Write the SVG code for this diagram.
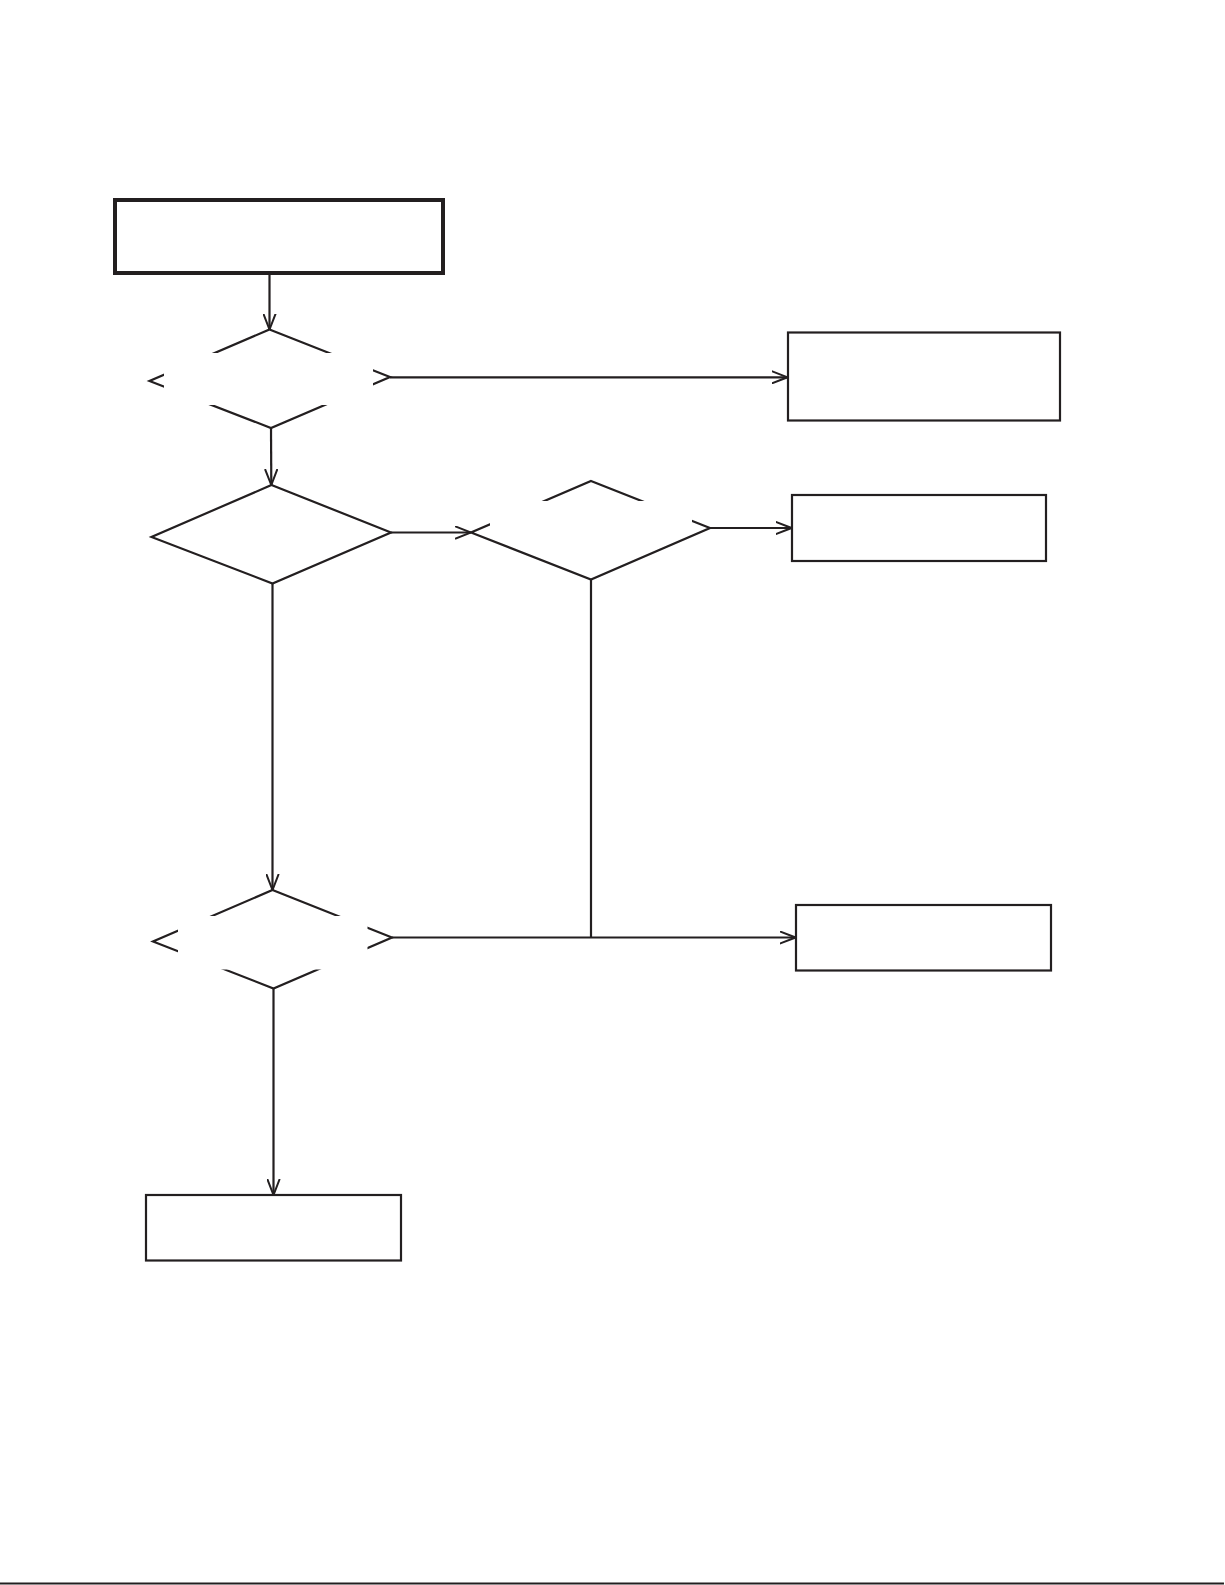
<svg xmlns="http://www.w3.org/2000/svg" width="1225" height="1585" viewBox="0 0 1225 1585">
<style>
.box{fill:#fff;stroke:#231f20;stroke-width:2.2}
.dia{fill:#fff;stroke:#231f20;stroke-width:2.2;stroke-linejoin:miter}
.mask{fill:#fff;stroke:none}
.con{fill:none;stroke:#231f20;stroke-width:2.2}
</style>
<defs>
<marker id="arr" viewBox="0 0 16 14" markerWidth="16" markerHeight="14" refX="16" refY="7" orient="auto" markerUnits="userSpaceOnUse">
<path d="M0,0.8 L16,7 L0,13.2" fill="none" stroke="#231f20" stroke-width="2"/>
</marker>
</defs>
<rect width="1225" height="1585" fill="#fff"/>
<g id="start">
<rect x="115" y="200" width="328" height="73" fill="#fff" stroke="#231f20" stroke-width="4"/>
</g>
<g id="decision1">
<polygon class="dia" points="269.5,329.5 390,377 271,428 149.5,381"/>
<rect class="mask" x="164" y="353" width="209" height="52"/>
</g>
<g id="decision2">
<polygon class="dia" points="271.5,485 391,532.5 272.5,583.5 151.5,537"/>
</g>
<g id="decision3">
<polygon class="dia" points="591,481 710,528 591,579.5 471,532.5"/>
<rect class="mask" x="490" y="501" width="202" height="29"/>
</g>
<g id="decision4">
<polygon class="dia" points="272.5,890 392,937.5 273.5,988.5 153,941.5"/>
<rect class="mask" x="178" y="916" width="189.5" height="53.5"/>
</g>
<g id="box-right1">
<rect class="box" x="788" y="332.5" width="272" height="88"/>
</g>
<g id="box-right2">
<rect class="box" x="792" y="495" width="254" height="66"/>
</g>
<g id="box-right3">
<rect class="box" x="796" y="905" width="255" height="65.5"/>
</g>
<g id="box-bottom">
<rect class="box" x="146" y="1195" width="255" height="65.5"/>
</g>
<g id="connectors">
<line class="con" x1="269.5" y1="275" x2="269.5" y2="329.5" marker-end="url(#arr)"/>
<line class="con" x1="390" y1="377.3" x2="787.5" y2="377.3" marker-end="url(#arr)"/>
<line class="con" x1="271" y1="428" x2="271.3" y2="485" marker-end="url(#arr)"/>
<line class="con" x1="391" y1="532.5" x2="471" y2="532.5" marker-end="url(#arr)"/>
<line class="con" x1="710" y1="528" x2="791.5" y2="528" marker-end="url(#arr)"/>
<line class="con" x1="272.5" y1="583.5" x2="272.5" y2="890" stroke-width="3" marker-end="url(#arr)"/>
<line class="con" x1="591" y1="579.5" x2="591" y2="937.5"/>
<line class="con" x1="392" y1="937.5" x2="795.5" y2="937.5" marker-end="url(#arr)"/>
<line class="con" x1="273.5" y1="988.5" x2="273.5" y2="1195" marker-end="url(#arr)"/>
</g>
<line x1="0" y1="1583.5" x2="1224" y2="1583.5" stroke="#231f20" stroke-width="2"/>
</svg>
